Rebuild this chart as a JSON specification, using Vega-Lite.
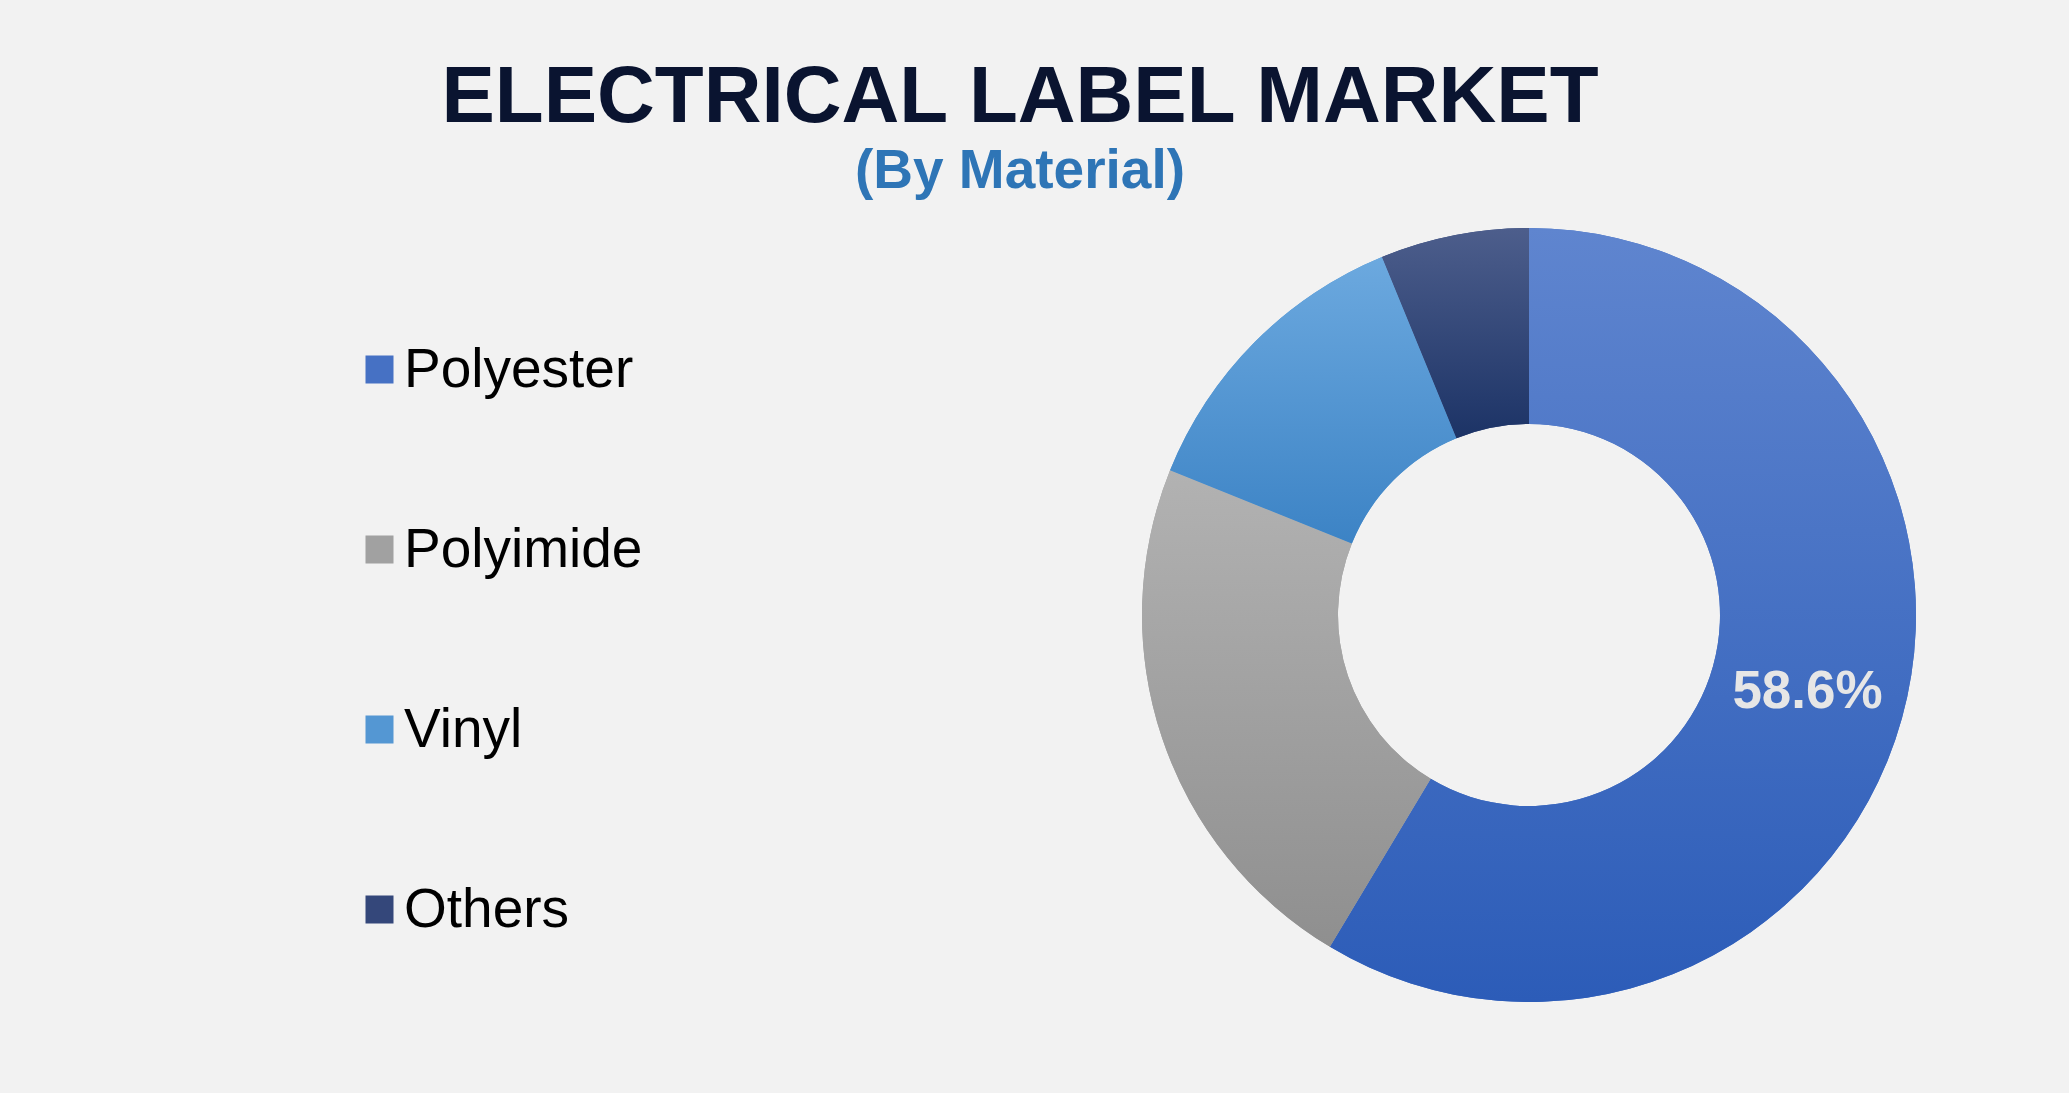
{
  "$schema": "https://vega.github.io/schema/vega-lite/v6.json",
  "width": 776,
  "height": 776,
  "autosize": {"type": "none"},
  "padding": {"left": 1141, "top": 227, "right": 152, "bottom": 90},
  "background": "#F2F2F2",
  "config": {"view": {"stroke": null}},
  "title": {
    "text": "ELECTRICAL LABEL MARKET",
    "subtitle": "(By Material)",
    "anchor": "middle",
    "dx": -509,
    "offset": 27,
    "font": "Liberation Sans",
    "fontSize": 80,
    "fontWeight": "bold",
    "color": "#0A1430",
    "subtitleFont": "Liberation Sans",
    "subtitleFontSize": 55,
    "subtitleFontWeight": "bold",
    "subtitleColor": "#2E75B6",
    "subtitlePadding": 6
  },
  "data": {
    "values": [
      {"material": "Polyester", "share": 58.6, "rank": 1, "label": "58.6%"},
      {"material": "Polyimide", "share": 22.5, "rank": 2, "label": ""},
      {"material": "Vinyl", "share": 12.7, "rank": 3, "label": ""},
      {"material": "Others", "share": 6.2, "rank": 4, "label": ""}
    ]
  },
  "transform": [
    {"stack": "share", "groupby": [], "sort": [{"field": "rank", "order": "ascending"}], "as": ["s0", "s1"]}
  ],
  "layer": [
    {
      "mark": {"type": "arc", "innerRadius": 191, "outerRadius": 387},
      "encoding": {
        "theta": {"field": "s0", "type": "quantitative", "scale": {"domain": [0, 100]}},
        "theta2": {"field": "s1"},
        "color": {
          "field": "material",
          "type": "nominal",
          "scale": {
            "domain": ["Polyester", "Polyimide", "Vinyl", "Others"],
            "range": ["#4671C4", "#A1A1A1", "#5497D3", "#34477A"]
          },
          "legend": {
            "orient": "none",
            "legendX": -789,
            "legendY": 115,
            "title": null,
            "symbolType": "square",
            "symbolSize": 784,
            "symbolStrokeColor": "transparent",
            "symbolStrokeWidth": 0,
            "symbolOpacity": 1,
            "labelFont": "Liberation Sans",
            "labelFontSize": 55,
            "labelColor": "#000000",
            "labelOffset": -3,
            "labelLimit": 0,
            "rowPadding": 124
          }
        }
      }
    },
    {
      "transform": [{"filter": "datum.material === 'Polyester'"}],
      "mark": {"type": "arc", "innerRadius": 191, "outerRadius": 387,
        "color": {"gradient": "linear", "x1": 0, "y1": 0, "x2": 0, "y2": 1, "stops": [{"offset": 0, "color": "#5F85CF"}, {"offset": 1, "color": "#2C5CB8"}]}},
      "encoding": {"theta": {"field": "s0", "type": "quantitative"}, "theta2": {"field": "s1"}}
    },
    {
      "transform": [{"filter": "datum.material === 'Polyimide'"}],
      "mark": {"type": "arc", "innerRadius": 191, "outerRadius": 387,
        "color": {"gradient": "linear", "x1": 0, "y1": 0, "x2": 0, "y2": 1, "stops": [{"offset": 0, "color": "#B2B2B2"}, {"offset": 1, "color": "#8F8F8F"}]}},
      "encoding": {"theta": {"field": "s0", "type": "quantitative"}, "theta2": {"field": "s1"}}
    },
    {
      "transform": [{"filter": "datum.material === 'Vinyl'"}],
      "mark": {"type": "arc", "innerRadius": 191, "outerRadius": 387,
        "color": {"gradient": "linear", "x1": 0, "y1": 0, "x2": 0, "y2": 1, "stops": [{"offset": 0, "color": "#6CA9DF"}, {"offset": 1, "color": "#3C83C5"}]}},
      "encoding": {"theta": {"field": "s0", "type": "quantitative"}, "theta2": {"field": "s1"}}
    },
    {
      "transform": [{"filter": "datum.material === 'Others'"}],
      "mark": {"type": "arc", "innerRadius": 191, "outerRadius": 387,
        "color": {"gradient": "linear", "x1": 0, "y1": 0, "x2": 0, "y2": 1, "stops": [{"offset": 0, "color": "#4D5E8C"}, {"offset": 1, "color": "#1C3366"}]}},
      "encoding": {"theta": {"field": "s0", "type": "quantitative"}, "theta2": {"field": "s1"}}
    },
    {
      "mark": {"type": "text", "radius": 289, "font": "Liberation Sans", "fontSize": 53, "fontWeight": "bold", "color": "#E6E6E6"},
      "encoding": {
        "theta": {"field": "share", "type": "quantitative", "stack": true},
        "order": {"field": "rank", "type": "quantitative"},
        "detail": {"field": "material"},
        "text": {"field": "label"}
      }
    }
  ]
}
